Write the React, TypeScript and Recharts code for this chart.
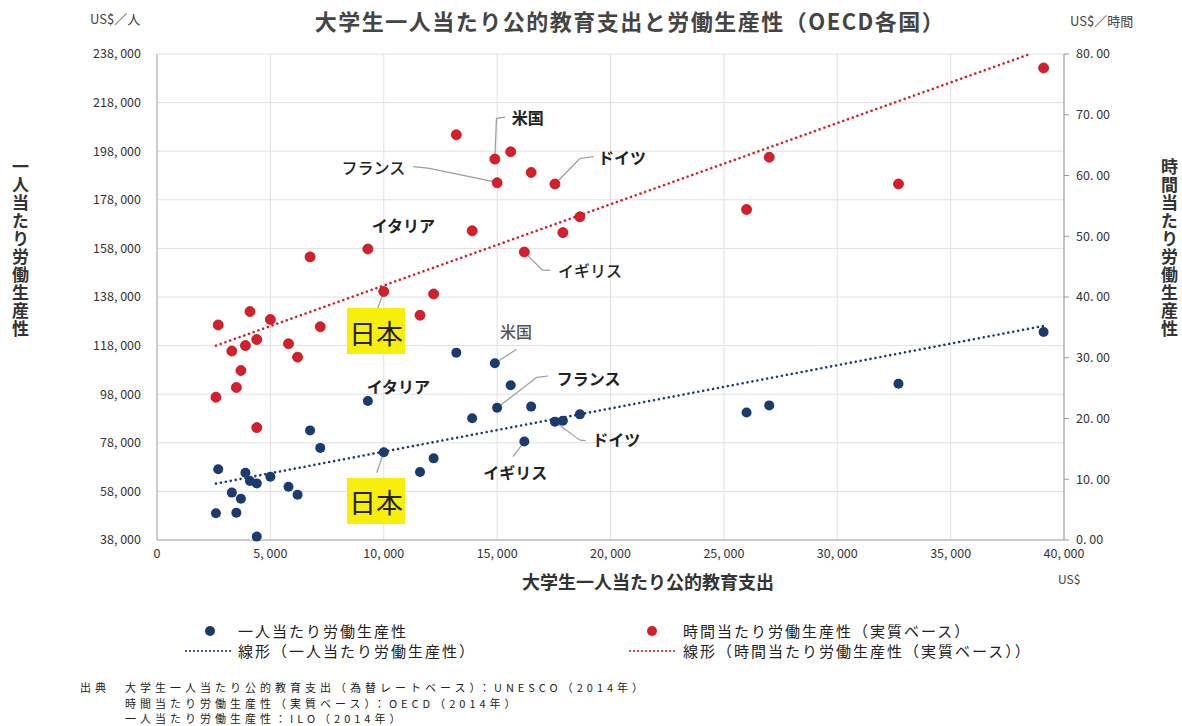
import { ScatterChart, Scatter, XAxis, YAxis, CartesianGrid, ReferenceDot, ReferenceLine } from "recharts";

const FONT = '"Noto Sans CJK JP", "Noto Sans", sans-serif';
const BLUE = "#1b3a6d";
const RED = "#d61f2a";

// 大学生一人当たり公的教育支出 (US$), one entry per country
const spending = [2600, 2700, 3300, 3500, 3700, 3900, 4100, 4400, 4400, 5000, 5800, 6200, 6750, 7200, 9300, 10000, 11600, 12200, 13200, 13900, 14900, 15000, 15600, 16200, 16500, 17550, 17900, 18650, 26000, 27000, 32700, 39100];
// 一人当たり労働生産性 (US$/人)
const perWorker = [49000, 67100, 57500, 49200, 55000, 65700, 62300, 61300, 39400, 64000, 59900, 56600, 83100, 75900, 95200, 74100, 66000, 71600, 115100, 88100, 110700, 92400, 101700, 78500, 92900, 86700, 87100, 89700, 90500, 93400, 102300, 123600];
// 時間当たり労働生産性 (US$/時間)
const perHour = [23.5, 35.4, 31.1, 25.1, 27.9, 32.0, 37.6, 33.0, 18.5, 36.3, 32.3, 30.1, 46.6, 35.1, 47.9, 40.9, 37.0, 40.5, 66.7, 50.9, 62.7, 58.8, 63.9, 47.4, 60.5, 58.6, 50.6, 53.2, 54.4, 63.0, 58.6, 77.7];

// 線形 trend lines, end points
const workerTrendX = [2600, 39100];
const workerTrendY = [61200, 126100];
const hourTrendX = [2600, 38500];
const hourTrendY = [32.0, 80.0];

const xTicks = [0, 5000, 10000, 15000, 20000, 25000, 30000, 35000, 40000];
const leftTicks = [38000, 58000, 78000, 98000, 118000, 138000, 158000, 178000, 198000, 218000, 238000];
const rightTicks = [0, 10, 20, 30, 40, 50, 60, 70, 80];

const workerPoints = spending.map((x, i) => ({ x, y: perWorker[i] }));
const hourPoints = spending.map((x, i) => ({ x, y: perHour[i] }));
const workerTrend = workerTrendX.map((x, i) => ({ x, y: workerTrendY[i] }));
const hourTrend = hourTrendX.map((x, i) => ({ x, y: hourTrendY[i] }));

type Note = { text: string; x: number; y: number; axis: "left" | "right"; bold?: boolean; gray?: boolean; anchor?: "start" | "end"; box?: boolean };

const notes: Note[] = [
  { text: "米国", x: 15650, y: 69.6, axis: "right", bold: true },
  { text: "フランス", x: 10950, y: 61.4, axis: "right", anchor: "end" },
  { text: "ドイツ", x: 19450, y: 63.0, axis: "right", bold: true },
  { text: "イタリア", x: 9470, y: 51.8, axis: "right", bold: true },
  { text: "イギリス", x: 17680, y: 44.4, axis: "right" },
  { text: "日本", x: 9660, y: 34.4, axis: "right", box: true },
  { text: "米国", x: 15130, y: 124000, axis: "left", gray: true },
  { text: "フランス", x: 17630, y: 104700, axis: "left", bold: true },
  { text: "ドイツ", x: 19200, y: 79500, axis: "left", bold: true },
  { text: "イタリア", x: 9250, y: 101400, axis: "left", bold: true },
  { text: "イギリス", x: 14390, y: 66000, axis: "left", bold: true },
  { text: "日本", x: 9660, y: 54050, axis: "left", box: true },
];

const leaders: { axis: "left" | "right"; pts: [number, number][] }[] = [
  { axis: "right", pts: [[14900, 62.7], [14970, 69.4], [15350, 69.6]] },
  { axis: "right", pts: [[11300, 61.45], [11950, 61.2], [14850, 59.0]] },
  { axis: "right", pts: [[17550, 58.6], [18650, 62.8], [19250, 63.1]] },
  { axis: "right", pts: [[16200, 47.4], [17000, 44.4], [17350, 44.4]] },
  { axis: "right", pts: [[10000, 40.9], [9740, 38.2]] },
  { axis: "left", pts: [[14900, 110700], [15860, 116500]] },
  { axis: "left", pts: [[15000, 92400], [16750, 104950], [17250, 105500]] },
  { axis: "left", pts: [[17550, 86700], [18650, 79100], [18900, 78900]] },
  { axis: "left", pts: [[16200, 78500], [15700, 72300]] },
  { axis: "left", pts: [[10000, 74100], [9690, 65700]] },
];

const fmtThousands = (v: number) => v.toLocaleString("en-US").replace(/,/g, ", ");
const fmtHour = (v: number) => v.toFixed(2).replace(".", ". ");

const tickStyle = { fontSize: 12.5, fill: "#333", fontFamily: FONT };
const dotted = { strokeWidth: 2.6, strokeDasharray: "0.01 5", strokeLinecap: "round" as const };

function noteLabel(n: Note) {
  return (p: any) => {
    const vb = p.viewBox || {};
    const cx = (vb.x ?? 0) + (vb.width ?? 0) / 2;
    const cy = (vb.y ?? 0) + (vb.height ?? 0) / 2;
    if (n.box) {
      return (
        <g>
          <rect x={cx - 29} y={cy - 23} width={58} height={46} fill="#f7ee0a" />
          <text x={cx} y={cy + 1} textAnchor="middle" dominantBaseline="central" fontSize={27} fontFamily={FONT} fill="#222">
            {n.text}
          </text>
        </g>
      );
    }
    return (
      <text
        x={cx}
        y={cy}
        textAnchor={n.anchor || "start"}
        dominantBaseline="central"
        fontSize={16}
        fontWeight={n.bold ? 700 : 500}
        fontFamily={FONT}
        fill={n.gray ? "#555" : "#222"}
      >
        {n.text}
      </text>
    );
  };
}

const vertical = { position: "absolute" as const, top: 158, width: 20, writingMode: "vertical-rl" as const, fontSize: 17, lineHeight: "20px", fontWeight: 700, color: "#333", letterSpacing: 1 };
const sourceText = { position: "absolute" as const, top: 680, fontSize: 11, color: "#222", lineHeight: "15.5px", letterSpacing: 4, whiteSpace: "nowrap" as const };

export default function App() {
  return (
    <div style={{ position: "absolute", left: 0, top: 0, width: 1182, height: 726, background: "#fff", fontFamily: FONT, overflow: "hidden" }}>
      <ScatterChart width={1182} height={600} margin={{ top: 54, right: 58, bottom: 30, left: 97 }}>
        <CartesianGrid yAxisId="left" stroke="#e0e0e0" horizontalValues={leftTicks} verticalValues={xTicks} />
        <XAxis
          type="number"
          dataKey="x"
          domain={[0, 40000]}
          ticks={xTicks}
          interval={0}
          tickFormatter={fmtThousands}
          tick={tickStyle}
          stroke="#aaa"
          tickLine={false}
          tickSize={0}
          tickMargin={9}
          height={30}
        />
        <YAxis
          yAxisId="left"
          type="number"
          dataKey="y"
          domain={[38000, 238000]}
          ticks={leftTicks}
          interval={0}
          tickFormatter={fmtThousands}
          tick={tickStyle}
          stroke="#aaa"
          tickLine={false}
          tickSize={0}
          tickMargin={16}
          width={60}
        />
        <YAxis
          yAxisId="right"
          orientation="right"
          type="number"
          dataKey="y"
          domain={[0, 80]}
          ticks={rightTicks}
          interval={0}
          tickFormatter={fmtHour}
          tick={tickStyle}
          stroke="#999"
          tickSize={5}
          tickMargin={7}
          width={60}
        />

        {leaders.flatMap((l, li) =>
          l.pts.slice(1).map((pt, si) => (
            <ReferenceLine
              key={`ld-${li}-${si}`}
              yAxisId={l.axis}
              segment={[
                { x: l.pts[si][0], y: l.pts[si][1] },
                { x: pt[0], y: pt[1] },
              ]}
              stroke="#9c9c9c"
              strokeWidth={1.2}
            />
          ))
        )}

        <Scatter
          yAxisId="left"
          data={workerTrend}
          isAnimationActive={false}
          fill={BLUE}
          line={{ stroke: BLUE, ...dotted }}
          shape={() => <g />}
        />
        <Scatter
          yAxisId="right"
          data={hourTrend}
          isAnimationActive={false}
          fill={RED}
          line={{ stroke: RED, ...dotted }}
          shape={() => <g />}
        />
        <Scatter
          yAxisId="left"
          data={workerPoints}
          isAnimationActive={false}
          fill={BLUE}
          shape={(p: any) => <circle cx={p.cx} cy={p.cy} r={5} fill={BLUE} />}
        />
        <Scatter
          yAxisId="right"
          data={hourPoints}
          isAnimationActive={false}
          fill={RED}
          shape={(p: any) => <circle cx={p.cx} cy={p.cy} r={5} fill={RED} stroke="#b0141d" strokeWidth={0.8} />}
        />

        {notes.map((n, i) => (
          <ReferenceDot key={`n-${i}`} yAxisId={n.axis} x={n.x} y={n.y} r={0} stroke="none" fill="none" label={{ content: noteLabel(n) }} />
        ))}
      </ScatterChart>

      {/* headings and axis titles */}
      <div style={{ position: "absolute", left: 0, width: 1260, top: 4, textAlign: "center", fontSize: 22, fontWeight: 700, color: "#444", letterSpacing: 1.5 }}>
        大学生一人当たり公的教育支出と労働生産性（OECD各国）
      </div>
      <div style={{ position: "absolute", left: 90, top: 9, fontSize: 13, color: "#444" }}>US$／人</div>
      <div style={{ position: "absolute", left: 1070, top: 11, fontSize: 13, color: "#444" }}>US$／時間</div>
      <div style={{ ...vertical, left: 10 }}>一人当たり労働生産性</div>
      <div style={{ ...vertical, left: 1159 }}>時間当たり労働生産性</div>
      <div style={{ position: "absolute", left: 470, width: 356, top: 568, textAlign: "center", fontSize: 18, fontWeight: 700, color: "#333" }}>
        大学生一人当たり公的教育支出
      </div>
      <div style={{ position: "absolute", left: 1058, top: 570, fontSize: 12, color: "#444" }}>US$</div>

      {/* legend */}
      <svg style={{ position: "absolute", left: 0, top: 0 }} width={1182} height={726}>
        <circle cx={210} cy={631} r={5} fill={BLUE} />
        <line x1={186} y1={651} x2={232} y2={651} stroke={BLUE} {...dotted} strokeWidth={2.2} strokeDasharray="0.01 4" />
        <circle cx={652} cy={631} r={5} fill={RED} />
        <line x1={630} y1={651} x2={677} y2={651} stroke={RED} {...dotted} strokeWidth={2.2} strokeDasharray="0.01 4" />
      </svg>
      <div style={{ position: "absolute", left: 238, top: 621, fontSize: 15, color: "#222", letterSpacing: 2, lineHeight: "20px" }}>
        一人当たり労働生産性<br />
        線形（一人当たり労働生産性）
      </div>
      <div style={{ position: "absolute", left: 683, top: 621, fontSize: 15, color: "#222", letterSpacing: 2, lineHeight: "20px" }}>
        時間当たり労働生産性（実質ベース）<br />
        線形（時間当たり労働生産性（実質ベース））
      </div>

      {/* source */}
      <div style={{ ...sourceText, left: 80 }}>出典</div>
      <div style={{ ...sourceText, left: 125 }}>
        <div>大学生一人当たり公的教育支出（為替レートベース）：UNESCO（2014年）</div>
        <div>時間当たり労働生産性（実質ベース）：OECD（2014年）</div>
        <div>一人当たり労働生産性：ILO（2014年）</div>
      </div>
    </div>
  );
}
